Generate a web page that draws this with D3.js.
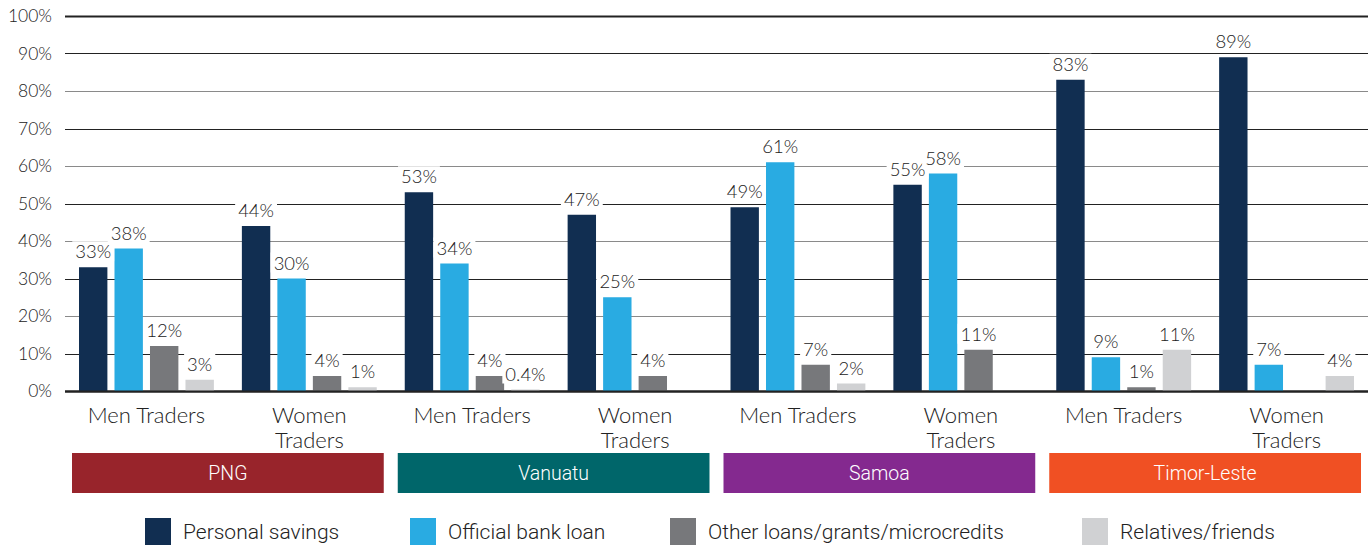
<!DOCTYPE html>
<html>
<head>
<meta charset="utf-8">
<script src="https://cdn.jsdelivr.net/npm/d3@7"></script>
<style>
  html, body { margin: 0; padding: 0; background: #fff; }
  svg { display: block; }
  text { font-family: Lato, "Open Sans", sans-serif; font-weight: 300; fill: #222; }
  .legend text, .country text { font-family: Roboto, sans-serif; font-weight: 300; }
</style>
</head>
<body>
<svg id="chart" width="1371" height="546"></svg>
<script>
// Sources of start-up finance, by country and trader gender (%)
const countries = ["PNG", "Vanuatu", "Samoa", "Timor-Leste"];
const countryColors = ["#98242b", "#00666a", "#84298f", "#f05023"];
const genders = ["Men Traders", "Women Traders"];
const seriesNames = ["Personal savings", "Official bank loan", "Other loans/grants/microcredits", "Relatives/friends"];
const seriesColors = ["#112e51", "#29abe2", "#77787b", "#d0d1d3"];

// one value per country × gender group, in order PNG men, PNG women, Vanuatu men, ...
const personalSavings = [33, 44, 53, 47, 49, 55, 83, 89];
const officialBankLoan = [38, 30, 34, 25, 61, 58, 9, 7];
const otherLoans = [12, 4, 4, 4, 7, 11, 1, null];
const relativesFriends = [3, 1, 0.4, null, 2, null, 11, 4];
const yTicks = [0, 10, 20, 30, 40, 50, 60, 70, 80, 90, 100];

const seriesValues = [personalSavings, officialBankLoan, otherLoans, relativesFriends];

const groups = [];
countries.forEach(c => genders.forEach(g => groups.push({ country: c, gender: g, key: c + "|" + g })));

const svg = d3.select("#chart");
const plotLeft = 65, plotRight = 1368, plotTop = 16, plotBottom = 391;

const x0 = d3.scaleBand().domain(groups.map(d => d.key)).range([plotLeft, plotRight]).paddingInner(0).paddingOuter(0);
const x1 = d3.scaleBand().domain(seriesNames).range([14, x0.bandwidth() - 14]).paddingInner(0.2).paddingOuter(0);
const y = d3.scaleLinear().domain([0, 100]).range([plotBottom, plotTop]);

// gridlines
const grid = svg.append("g");
grid.selectAll("line").data(yTicks).join("line")
  .attr("x1", plotLeft).attr("x2", plotRight)
  .attr("y1", d => Math.round(y(d)) + 0.5).attr("y2", d => Math.round(y(d)) + 0.5)
  .attr("stroke", d => (d === 0 || d === 100) ? "#222" : (d % 20 === 0 ? "#8a8a8a" : "#222"))
  .attr("stroke-width", d => (d === 0 || d === 100) ? 2 : 1.2);

// y axis labels
svg.append("g").selectAll("text").data(yTicks).join("text")
  .attr("x", 52).attr("y", d => y(d) + 6)
  .attr("text-anchor", "end")
  .style("font-size", "17.5px")
  .text(d => d + "%");

// bars
const flat = [];
groups.forEach((g, i) => seriesNames.forEach((s, si) => {
  const v = seriesValues[si][i];
  if (v !== null) flat.push({ group: g.key, series: s, si, value: v });
}));

svg.append("g").selectAll("rect").data(flat).join("rect")
  .attr("x", d => x0(d.group) + x1(d.series))
  .attr("width", x1.bandwidth())
  .attr("y", d => y(d.value))
  .attr("height", d => plotBottom - y(d.value))
  .attr("fill", d => seriesColors[d.si]);

// redraw baseline over bars
svg.append("line")
  .attr("x1", plotLeft).attr("x2", plotRight)
  .attr("y1", Math.round(y(0)) + 0.5).attr("y2", Math.round(y(0)) + 0.5)
  .attr("stroke", "#222").attr("stroke-width", 2);

// value labels with white backing
const labels = svg.append("g").selectAll("g").data(flat).join("g")
  .attr("transform", d => `translate(${x0(d.group) + x1(d.series) + x1.bandwidth() / 2},${y(d.value) - 9})`);
labels.append("text")
  .attr("text-anchor", "middle")
  .style("font-size", "18.5px")
  .text(d => d.value + "%");
labels.each(function () {
  const g = d3.select(this);
  const bb = g.select("text").node().getBBox();
  g.insert("rect", "text")
    .attr("x", bb.x - 3).attr("y", bb.y + 1)
    .attr("width", bb.width + 6).attr("height", bb.height - 2)
    .attr("fill", "#fff");
});

// category labels
const cat = svg.append("g").selectAll("text").data(groups).join("text")
  .attr("text-anchor", "middle")
  .attr("x", d => x0(d.key) + x0.bandwidth() / 2)
  .attr("y", 423)
  .style("font-size", "22px");
cat.each(function (d) {
  const t = d3.select(this);
  if (d.gender === "Men Traders") {
    t.text(d.gender);
  } else {
    d.gender.split(" ").forEach((w, i) => {
      t.append("tspan").attr("x", x0(d.key) + x0.bandwidth() / 2).attr("dy", i === 0 ? 0 : 25).text(w);
    });
  }
});

// country bands
const cg = svg.append("g").attr("class", "country").selectAll("g").data(countries).join("g");
cg.append("rect")
  .attr("x", c => x0(c + "|" + genders[0]) + 7)
  .attr("width", x0.bandwidth() * 2 - 14)
  .attr("y", 453).attr("height", 40)
  .attr("fill", (c, i) => countryColors[i]);
cg.append("text")
  .attr("x", c => x0(c + "|" + genders[0]) + x0.bandwidth())
  .attr("y", 480)
  .attr("text-anchor", "middle")
  .style("font-size", "19.5px")
  .style("fill", "#fff")
  .text(c => c);

// legend
const legendX = [145, 410, 670, 1082];
const lg = svg.append("g").attr("class", "legend").selectAll("g").data(seriesNames).join("g")
  .attr("transform", (d, i) => `translate(${legendX[i]},518)`);
lg.append("rect").attr("width", 26).attr("height", 27).attr("fill", (d, i) => seriesColors[i]);
lg.append("text").attr("x", 38).attr("y", 21).style("font-size", "21px").text(d => d);
</script>
</body>
</html>
